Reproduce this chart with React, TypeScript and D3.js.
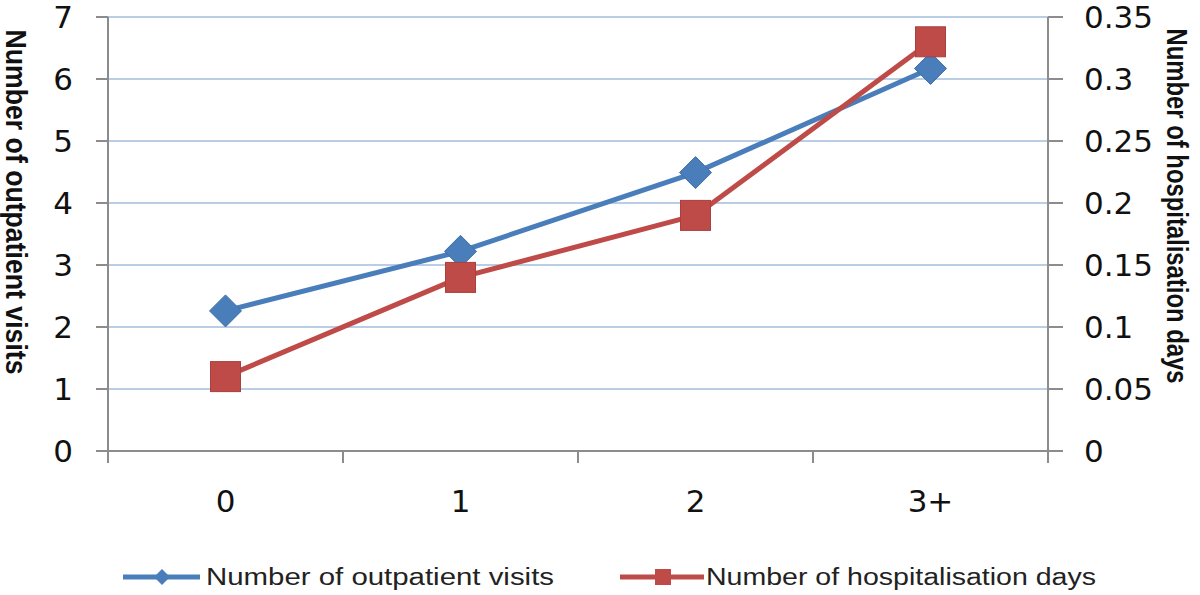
import React from 'react';
import * as d3 from 'd3';

const categories = ['0', '1', '2', '3+'];
const outpatientVisits = [2.26, 3.22, 4.49, 6.17];
const hospitalisationDays = [0.06, 0.14, 0.19, 0.33];
const leftTicks = [0, 1, 2, 3, 4, 5, 6, 7];
const rightTicks = [0, 0.05, 0.1, 0.15, 0.2, 0.25, 0.3, 0.35];

const BLUE = '#4A7EBB';
const RED = '#BE4B48';
const GRID = '#B9CDE5';
const AXIS = '#8C8C8C';

const App = () => {
  const width = 1200,
    height = 595;
  const left = 108,
    right = 1048,
    top = 17,
    bottom = 451;

  const x = d3.scaleBand().domain(categories).range([left, right]);
  const cx = (c: string) => (x(c) as number) + x.bandwidth() / 2;
  const yL = d3.scaleLinear().domain([0, 7]).range([bottom, top]);
  const yR = d3.scaleLinear().domain([0, 0.35]).range([bottom, top]);

  const line = d3.line<[number, number]>();
  const bluePts: [number, number][] = categories.map((c, i) => [cx(c), yL(outpatientVisits[i])]);
  const redPts: [number, number][] = categories.map((c, i) => [cx(c), yR(hospitalisationDays[i])]);

  const diamond = (px: number, py: number, r: number) =>
    `M${px},${py - r}L${px + r},${py}L${px},${py + r}L${px - r},${py}Z`;

  const xTicks = [...categories.map((c) => x(c) as number), right];
  const tickFont = { fontFamily: '"DejaVu Sans", sans-serif', fontSize: 31, fill: '#111' };
  const titleFont = {
    fontFamily: '"Liberation Sans", Arial, sans-serif',
    fontWeight: 'bold',
    fontSize: 29,
    fill: '#111',
  };

  return (
    <svg width={width} height={height} style={{ position: 'absolute', left: 0, top: 0 }}>
      <rect width={width} height={height} fill="#fff" />

      {/* gridlines */}
      {leftTicks.slice(1).map((t) => (
        <line key={t} x1={left} x2={right} y1={yL(t)} y2={yL(t)} stroke={GRID} strokeWidth={2} />
      ))}

      {/* axes */}
      <line x1={left} x2={left} y1={top} y2={bottom + 12} stroke={AXIS} strokeWidth={2} />
      <line x1={right} x2={right} y1={top} y2={bottom + 12} stroke={AXIS} strokeWidth={2} />
      <line x1={left - 12} x2={right} y1={bottom} y2={bottom} stroke={AXIS} strokeWidth={2} />
      {leftTicks.map((t) => (
        <g key={t}>
          <line x1={left - 12} x2={left} y1={yL(t)} y2={yL(t)} stroke={AXIS} strokeWidth={2} />
          <text x={73} y={yL(t)} dy="0.36em" textAnchor="end" {...tickFont}>
            {t}
          </text>
        </g>
      ))}
      {rightTicks.map((t) => (
        <g key={t}>
          <line x1={right} x2={right + 15} y1={yR(t)} y2={yR(t)} stroke={AXIS} strokeWidth={2} />
          <text x={1084} y={yR(t)} dy="0.36em" textAnchor="start" {...tickFont}>
            {t}
          </text>
        </g>
      ))}
      {xTicks.map((t, i) => (
        <line key={i} x1={t} x2={t} y1={bottom} y2={bottom + 12} stroke={AXIS} strokeWidth={2} />
      ))}
      {categories.map((c) => (
        <text key={c} x={cx(c)} y={512} textAnchor="middle" {...tickFont}>
          {c}
        </text>
      ))}

      {/* axis titles */}
      <text
        transform="translate(6,202) rotate(90)"
        textAnchor="middle"
        textLength={345}
        lengthAdjust="spacingAndGlyphs"
        {...titleFont}
      >
        Number of outpatient visits
      </text>
      <text
        transform="translate(1167,206) rotate(90)"
        textAnchor="middle"
        textLength={355}
        lengthAdjust="spacingAndGlyphs"
        {...titleFont}
      >
        Number of hospitalisation days
      </text>

      {/* series */}
      <path d={line(bluePts) || ''} fill="none" stroke={BLUE} strokeWidth={5} strokeLinejoin="round" />
      <path d={line(redPts) || ''} fill="none" stroke={RED} strokeWidth={5} strokeLinejoin="round" />
      {bluePts.map(([px, py], i) => (
        <path key={i} d={diamond(px, py, 16)} fill={BLUE} stroke="#3F6FA8" strokeWidth={1} />
      ))}
      {redPts.map(([px, py], i) => (
        <rect key={i} x={px - 15} y={py - 15} width={30} height={30} fill={RED} stroke="#A8403D" strokeWidth={1} />
      ))}

      {/* legend */}
      <line x1={123} x2={200} y1={577} y2={577} stroke={BLUE} strokeWidth={5} />
      <path d={diamond(162, 577, 8)} fill={BLUE} />
      <text
        x={206}
        y={585}
        fontFamily='"Liberation Sans", Arial, sans-serif'
        fontSize={23}
        textLength={348}
        lengthAdjust="spacingAndGlyphs"
        fill="#222"
      >
        Number of outpatient visits
      </text>
      <line x1={620} x2={704} y1={577} y2={577} stroke={RED} strokeWidth={5} />
      <rect x={655} y={569} width={16} height={16} fill={RED} />
      <text
        x={706}
        y={585}
        fontFamily='"Liberation Sans", Arial, sans-serif'
        fontSize={23}
        textLength={390}
        lengthAdjust="spacingAndGlyphs"
        fill="#222"
      >
        Number of hospitalisation days
      </text>
    </svg>
  );
};

export default App;
